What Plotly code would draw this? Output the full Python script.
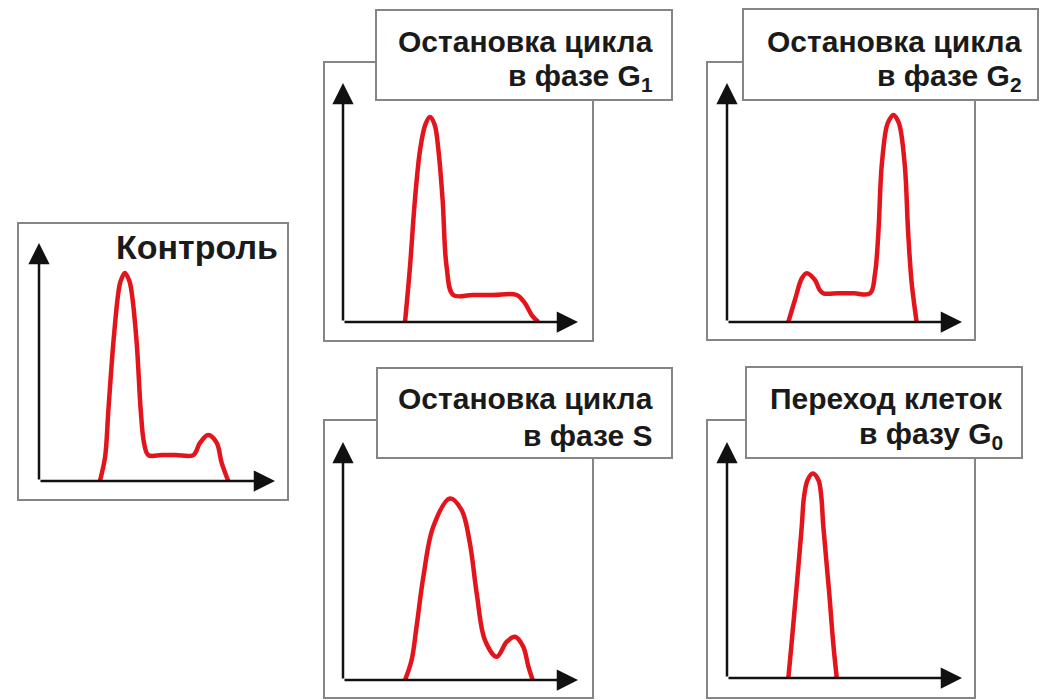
import plotly.graph_objects as go

W, H = 1054, 700

# ---- Data: histogram outlines (DNA content vs. cell count), in axis units 0..100
ctrl_x = [25.8, 28.0, 29.4, 31.5, 33.6, 34.6, 36.4, 38.3, 39.3, 41.4, 43.1, 44.5, 46.3, 52.0, 58.0, 65.4, 68.2, 71.7, 75.3, 77.4, 80.2]
ctrl_y = [0, 10.1, 29.8, 58.0, 79.0, 84.0, 87.4, 84.0, 79.0, 58.0, 29.8, 16.0, 10.9, 10.9, 10.9, 10.9, 16.0, 19.3, 16.0, 7.6, 0]

g1_x = [26.4, 28.5, 30.6, 32.8, 35.0, 37.0, 39.0, 40.6, 42.4, 44.1, 46.9, 55.0, 64.0, 73.9, 77.4, 80.3, 83.1]
g1_y = [0, 23.0, 51.0, 72.0, 82.5, 85.8, 82.5, 72.0, 51.0, 23.0, 11.3, 11.3, 11.3, 11.3, 7.9, 2.9, 0]

g2_x = [26.1, 28.9, 31.8, 33.9, 37.4, 39.5, 41.0, 47.5, 54.0, 60.9, 63.0, 64.4, 65.8, 67.9, 69.0, 70.8, 72.6, 73.6, 75.7, 77.1, 78.6, 80.7]
g2_y = [0, 9.2, 18.2, 20.4, 17.6, 13.3, 12.0, 12.0, 12.0, 12.0, 20.4, 37.1, 65.0, 81.7, 84.5, 86.6, 84.5, 81.7, 65.0, 37.1, 16.2, 0]

s_x = [26.4, 29.2, 31.3, 34.2, 38.4, 45.5, 50.5, 54.0, 56.9, 60.4, 65.4, 69.7, 73.2, 76.7, 78.9, 80.7]
s_y = [0, 8.4, 22.4, 43.4, 64.4, 76.3, 71.4, 57.4, 36.4, 16.8, 9.8, 16.1, 18.2, 14.0, 5.6, 0]

g0_x = [26.1, 27.5, 29.4, 31.8, 32.8, 34.3, 36.5, 38.9, 40.1, 41.0, 43.5, 45.2, 46.7]
g0_y = [0, 14.8, 36.0, 64.1, 77.0, 83.9, 86.7, 83.9, 77.0, 64.1, 36.0, 14.8, 0]

title_lines = [
    ["Контроль"],
    ["Остановка цикла", "в фазе G<sub>1</sub>"],
    ["Остановка цикла", "в фазе G<sub>2</sub>"],
    ["Остановка цикла", "в фазе S"],
    ["Переход клеток", "в фазу G<sub>0</sub>"],
]
curves_x = [ctrl_x, g1_x, g2_x, s_x, g0_x]
curves_y = [ctrl_y, g1_y, g2_y, s_y, g0_y]

# ---- Layout (pixels): axis origin / arrow tips, panel frame, label box, text anchor(s)
panels = [
    dict(o=(39, 481), tip=(275, 243), frame=(18, 223, 288, 500), box=None,
         tx=280, ty=[247], size=34),
    dict(o=(343, 322), tip=(578, 83), frame=(324, 62, 593, 341), box=(376, 10, 672, 100),
         tx=655, ty=[41, 77.5], size=30),
    dict(o=(727, 322), tip=(962, 83), frame=(707, 62, 975, 340), box=(743, 9, 1038, 100),
         tx=1024, ty=[41, 77.5], size=30),
    dict(o=(343, 680), tip=(578, 442), frame=(324, 420, 593, 698), box=(377, 368, 672, 458),
         tx=655, ty=[399, 435], size=30),
    dict(o=(727, 678), tip=(962, 442), frame=(707, 420, 975, 698), box=(746, 367, 1022, 458),
         tx=1005, ty=[399, 435], size=30),
]

px = lambda x: x / W
py = lambda y: 1 - y / H

RED = "#e3141b"
GRAY = "#858585"

fig = go.Figure()
layout = dict(width=W, height=H, margin=dict(l=0, r=0, t=0, b=0), autosize=False,
              paper_bgcolor="white", plot_bgcolor="rgba(0,0,0,0)", showlegend=False)
shapes, annotations = [], []

for i, p in enumerate(panels):
    k = "" if i == 0 else str(i + 1)
    xa, ya = "x" + k, "y" + k
    layout["xaxis" + k] = dict(domain=[px(p["o"][0]), px(p["tip"][0])], range=[0, 100],
                               visible=False, fixedrange=True, anchor=ya)
    layout["yaxis" + k] = dict(domain=[py(p["o"][1]), py(p["tip"][1])], range=[0, 100],
                               visible=False, fixedrange=True, anchor=xa)

    fig.add_trace(go.Scatter(x=curves_x[i], y=curves_y[i], mode="lines", xaxis=xa, yaxis=ya,
                             line=dict(color=RED, width=4.5, shape="spline", smoothing=1.0),
                             hoverinfo="skip"))

    x0, y0, x1, y1 = p["frame"]
    shapes.append(dict(type="rect", xref="paper", yref="paper", x0=px(x0), x1=px(x1),
                       y0=py(y1), y1=py(y0), line=dict(color=GRAY, width=2),
                       fillcolor="rgba(0,0,0,0)", layer="above"))
    if p["box"]:
        bx0, by0, bx1, by1 = p["box"]
        shapes.append(dict(type="rect", xref="paper", yref="paper", x0=px(bx0), x1=px(bx1),
                           y0=py(by1), y1=py(by0), line=dict(color=GRAY, width=2),
                           fillcolor="white", layer="above"))

    # axes with arrows
    for (tx, ty) in [(100, 0), (0, 100)]:
        annotations.append(dict(x=tx, y=ty, ax=0, ay=0, xref=xa, yref=ya, axref=xa, ayref=ya,
                                text="", showarrow=True, arrowhead=2, arrowsize=1.7,
                                arrowwidth=2.5, arrowcolor="#111111", standoff=0))

    font = dict(family="Liberation Sans, Arial, sans-serif", size=p["size"], color="#1a1a1a")
    for line, yy in zip(title_lines[i], p["ty"]):
        annotations.append(dict(x=px(p["tx"]), y=py(yy), xref="paper", yref="paper",
                                text="<b>" + line + "</b>", showarrow=False, xanchor="right",
                                yanchor="middle", align="right", font=font))

layout["shapes"] = shapes
layout["annotations"] = annotations
fig.update_layout(**layout)
fig.write_html("out.html", config={"displayModeBar": False},
               post_script="document.body.style.margin='0px';document.body.style.overflow='hidden';")
